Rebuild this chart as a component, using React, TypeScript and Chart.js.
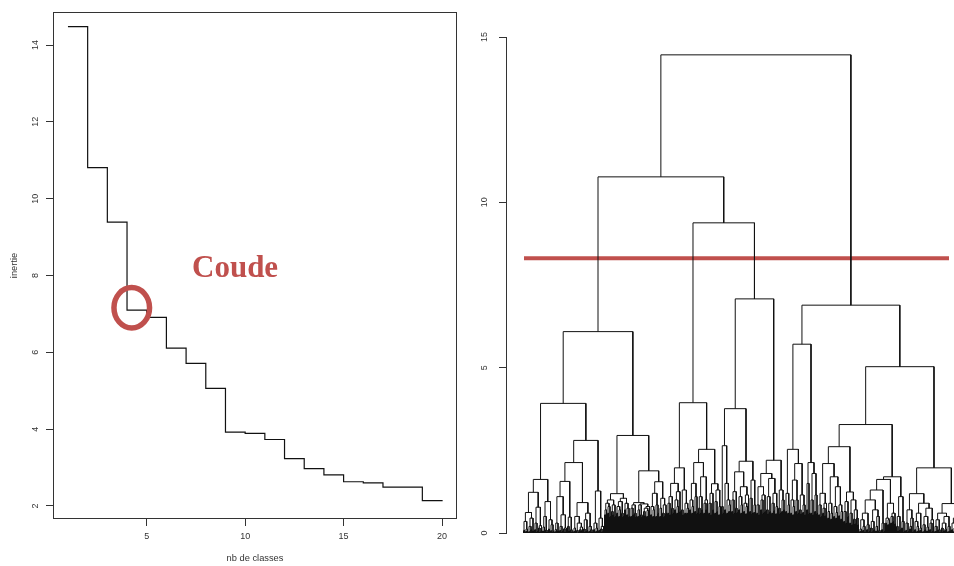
import React, { useEffect, useRef } from "react";
import { Chart, registerables } from "chart.js";

Chart.register(...registerables);

// ---------- Left chart: inertia vs number of classes ----------
const nbClasses = [1, 2, 3, 4, 5, 6, 7, 8, 9, 10, 11, 12, 13, 14, 15, 16, 17, 18, 19, 20];
const inertie = [14.48, 10.81, 9.39, 7.1, 6.91, 6.11, 5.71, 5.06, 3.92, 3.89, 3.73, 3.23, 2.97, 2.81, 2.63, 2.6, 2.49, 2.49, 2.14, 2.12];
const leftXTicks = [5, 10, 15, 20];
const leftYTicks = [2, 4, 6, 8, 10, 12, 14];
const elbowClasses = 4.24;
const elbowInertie = 7.16;
const annotationLabel = "Coude";

// ---------- Right chart: dendrogram ----------
const rightYTicks = [0, 5, 10, 15];
const cutHeight = 8.31;
const cutFrom = 0.5;
const cutTo = 425.5;

// merge heights between adjacent leaves inside each low-level bush
const bushGaps: number[][] = [
  [0.08, 0.35, 0.05, 0.12, 0.62, 0.04, 0.2, 0.1, 0.45, 0.06],
  [0.1, 0.3, 0.05, 0.78, 0.15, 0.04, 0.22],
  [0.06, 0.18, 0.5, 0.09, 0.03, 0.95, 0.12, 0.4, 0.07, 0.25, 0.05],
  [0.04, 0.1, 0.3, 0.06, 1.1, 0.08, 0.2, 0.05, 0.55, 0.12, 0.03, 0.15],
  [0.2, 0.06, 0.48, 0.1, 0.04],
  [0.05, 0.15, 0.5, 0.08, 0.02, 0.3, 0.1, 0.06, 0.18],
  [0.12, 0.04, 0.4, 0.08, 0.6, 0.05, 0.2, 0.1, 0.03],
  [0.1, 0.3, 0.05, 0.15, 1.27, 0.08, 0.45, 0.12, 0.04, 0.2],
  [0.55, 0.7, 0.9, 0.6, 0.8, 0.5, 1.0, 0.65, 0.55, 0.85, 0.5],
  [0.6, 0.8, 0.5, 0.7, 0.95, 0.6, 0.5, 1.05, 0.7, 0.9, 0.55, 0.75, 0.5],
  [0.5, 0.75, 0.55, 0.85, 0.6, 0.5],
  [0.5, 0.7, 0.85, 0.55, 0.5, 0.88, 0.65, 0.52, 0.75, 0.5, 0.68, 0.8],
  [0.55, 0.8, 0.5, 0.7, 1.2, 0.5, 0.85, 0.6, 1.55, 0.5, 0.75, 1.05, 0.6, 0.5, 0.85, 0.6],
  [0.6, 0.9, 0.55, 1.1, 0.75, 0.6, 1.5, 0.7, 1.0, 0.6, 0.8, 1.25, 0.65],
  [0.7, 0.55, 1.3, 0.6, 0.9, 0.6, 0.75],
  [0.7, 1.0, 0.6, 0.8, 1.5, 0.65, 1.1, 0.6],
  [0.75, 0.6, 1.1, 0.7, 1.7, 0.6, 0.9, 0.7, 1.0],
  [0.6, 0.9, 0.55, 1.2, 0.7],
  [0.6, 0.95, 0.65, 1.3, 0.55, 0.8],
  [0.8, 0.6],
  [0.7, 1.5, 0.6, 1.0, 0.65, 0.85],
  [0.65, 1.0, 0.6, 1.25, 0.75, 0.62, 1.85, 0.7, 1.1, 0.6, 0.85, 1.4, 0.65, 0.9, 0.58, 0.8, 1.15],
  [0.65, 1.05, 0.6, 1.6, 0.62, 0.85],
  [0.6, 0.85, 0.55, 1.4, 0.7, 1.0, 0.6, 1.15, 0.65],
  [0.7, 0.58, 1.1, 0.65, 1.65, 0.6, 0.9, 0.68, 1.2, 0.58, 0.8],
  [0.75, 0.6, 1.3, 0.65, 1.0, 0.7],
  [0.65, 1.2, 0.6, 0.85],
  [0.6, 1.0, 0.55, 0.8, 1.6, 0.65, 1.0, 0.6, 2.1, 0.7, 0.58, 1.15, 0.62, 0.85, 0.55],
  [0.7, 1.5, 0.6],
  [0.6, 1.0, 0.55, 1.8, 0.65, 1.15, 0.6],
  [0.55, 0.85, 0.5, 1.2, 0.6, 0.75, 0.52, 0.9],
  [0.45, 0.65, 0.9, 0.42, 0.6, 1.7, 0.5, 0.8, 0.45, 0.62, 1.4, 0.52, 0.85, 0.42, 0.65],
  [0.35, 0.65, 0.3, 0.95, 0.5],
  [0.3, 0.6, 0.25, 1.0, 0.42, 0.28, 0.7, 0.45, 0.25],
  [0.05, 0.12, 0.4, 0.08, 0.2, 0.03, 0.6, 0.1, 0.25, 0.05, 1.0, 0.15, 0.04, 0.35, 0.1, 0.7, 0.06, 0.2, 0.5, 0.08, 0.03, 1.3, 0.1, 0.3, 0.05],
  [0.3, 0.45, 0.25, 0.4, 0.9, 0.3, 0.5, 0.35, 0.6, 0.28],
  [0.2, 0.06, 0.5, 0.1, 1.1, 0.15, 0.35, 0.05],
  [0.08, 0.3, 0.05, 0.7, 0.12, 0.2, 0.45, 0.04],
  [0.1, 0.35, 0.05, 0.2, 0.6, 0.08, 0.15, 0.9, 0.04, 0.25, 0.1, 0.5, 0.06, 0.18, 0.75, 0.1, 0.3, 0.05, 0.4],
  [0.05, 0.2, 0.08, 0.4, 0.1, 0.03, 0.6, 0.15, 0.05, 0.3, 0.08, 0.12, 0.5, 0.04, 0.2, 0.07, 0.89, 0.1, 0.3, 0.05, 0.15, 0.45, 0.08, 0.2, 0.04, 0.6, 0.1, 0.25, 0.06, 0.35, 0.12, 0.05, 0.5],
];

// merge heights joining consecutive bushes
const joinHeights = [
  1.23, 1.62, 3.92, 1.56, 2.13, 0.92, 2.8, 6.09, 1.19, 2.95, 0.92, 1.88, 10.77,
  1.97, 3.94, 2.13, 2.53, 1.49, 9.38, 2.64, 3.76, 2.17, 7.08, 1.8, 2.2, 14.46,
  2.53, 5.71, 2.13, 6.89, 2.1, 2.61, 1.24, 3.28, 1.62, 1.7, 5.03, 1.19, 1.97,
];

type Pt = { x: number; y: number | null };

function buildDendrogram(): Pt[] {
  const gaps: number[] = [];
  bushGaps.forEach((b, i) => {
    gaps.push(...b);
    if (i < joinHeights.length) gaps.push(joinHeights[i]);
  });
  const pts: Pt[] = [];
  const rec = (lo: number, hi: number): { x: number; h: number } => {
    if (lo === hi) return { x: lo, h: 0 };
    let m = lo;
    for (let i = lo + 1; i < hi; i++) if (gaps[i] > gaps[m]) m = i;
    const H = gaps[m];
    const l = rec(lo, m);
    const r = rec(m + 1, hi);
    pts.push({ x: l.x, y: l.h }, { x: l.x, y: H }, { x: r.x, y: H }, { x: r.x, y: r.h }, { x: r.x, y: null });
    return { x: (l.x + r.x) / 2, h: H };
  };
  rec(0, gaps.length);
  return pts;
}

const FONT = '"Liberation Sans", Arial, sans-serif';
const INK = "#333";
const RED = "#c0504d";

export default function App() {
  const leftRef = useRef<HTMLCanvasElement>(null);
  const rightRef = useRef<HTMLCanvasElement>(null);

  useEffect(() => {
    Chart.defaults.font.family = FONT;

    const boxPlugin = {
      id: "rbox",
      afterDraw(chart: any) {
        const { ctx, chartArea: a } = chart;
        ctx.save();
        ctx.strokeStyle = INK;
        ctx.lineWidth = 1;
        ctx.strokeRect(Math.round(a.left) + 0.5, Math.round(a.top) + 0.5, Math.round(a.right - a.left) - 1, Math.round(a.bottom - a.top) - 1);
        const xs = chart.scales.x;
        const ys = chart.scales.y;
        ctx.strokeStyle = RED;
        ctx.lineWidth = 5.5;
        ctx.beginPath();
        ctx.ellipse(xs.getPixelForValue(elbowClasses), ys.getPixelForValue(elbowInertie), 17.8, 20.2, 0, 0, Math.PI * 2);
        ctx.stroke();
        ctx.restore();
      },
    };

    const left = new Chart(leftRef.current!, {
      type: "scatter",
      data: {
        datasets: [
          {
            data: nbClasses.map((c, i) => ({ x: c, y: inertie[i] })),
            showLine: true,
            stepped: "before",
            borderColor: "#111",
            borderWidth: 1.2,
            pointRadius: 0,
            fill: false,
          } as any,
        ],
      },
      options: {
        animation: false,
        responsive: false,
        devicePixelRatio: 1,
        layout: { padding: { top: 12, right: 13, left: 0, bottom: 0 } },
        plugins: { legend: { display: false }, tooltip: { enabled: false } },
        scales: {
          x: {
            type: "linear",
            min: 0.24,
            max: 20.76,
            afterBuildTicks: (s: any) => { s.ticks = leftXTicks.map((v) => ({ value: v })); },
            afterFit: (s: any) => { s.height = 47; },
            grid: { display: true, drawOnChartArea: false, drawTicks: true, tickLength: 7, color: INK },
            border: { display: false },
            ticks: { color: INK, font: { size: 9 }, padding: 5, maxRotation: 0, autoSkip: false },
            title: { display: true, text: "nb de classes", color: INK, font: { size: 9.3 }, padding: { top: 0, bottom: 2.4 } },
          },
          y: {
            type: "linear",
            min: 1.66,
            max: 14.86,
            afterBuildTicks: (s: any) => { s.ticks = leftYTicks.map((v) => ({ value: v })); },
            afterFit: (s: any) => { s.width = 53; },
            grid: { display: true, drawOnChartArea: false, drawTicks: true, tickLength: 7, color: INK },
            border: { display: false },
            ticks: { color: INK, font: { size: 9 }, padding: 5, minRotation: 90, maxRotation: 90, crossAlign: "center", autoSkip: false },
            title: { display: true, text: "inertie", color: INK, font: { size: 9.3 }, padding: { top: 8.4, bottom: 0 } },
          },
        },
      },
      plugins: [boxPlugin],
    } as any);

    const dendro = buildDendrogram();
    const right = new Chart(rightRef.current!, {
      type: "scatter",
      data: {
        datasets: [
          {
            data: dendro,
            showLine: true,
            spanGaps: false,
            borderColor: "#111",
            borderWidth: 1,
            pointRadius: 0,
            borderJoinStyle: "miter",
          } as any,
          {
            data: [
              { x: cutFrom, y: cutHeight },
              { x: cutTo, y: cutHeight },
            ],
            showLine: true,
            borderColor: RED,
            borderWidth: 4,
            pointRadius: 0,
          } as any,
        ],
      },
      options: {
        animation: false,
        responsive: false,
        devicePixelRatio: 1,
        layout: { padding: { top: 37, right: 0, left: 0, bottom: 33 } },
        plugins: { legend: { display: false }, tooltip: { enabled: false } },
        scales: {
          x: { type: "linear", min: -17.5, max: 430.5, display: false },
          y: {
            type: "linear",
            min: 0,
            max: 15,
            afterBuildTicks: (s: any) => { s.ticks = rightYTicks.map((v) => ({ value: v })); },
            afterFit: (s: any) => { s.width = 36; },
            grid: { display: true, drawOnChartArea: false, drawTicks: true, tickLength: 7, color: INK },
            border: { display: true, color: INK, width: 1 },
            ticks: { color: INK, font: { size: 9 }, padding: 9, minRotation: 90, maxRotation: 90, crossAlign: "center", autoSkip: false },
          },
        },
      },
    } as any);

    return () => {
      left.destroy();
      right.destroy();
    };
  }, []);

  return (
    <div style={{ position: "fixed", left: 0, top: 0, width: 954, height: 566, background: "#fff", overflow: "hidden" }}>
      <div style={{ position: "absolute", left: 0, top: 0, width: 470, height: 566 }}>
        <canvas ref={leftRef} width={470} height={566} />
      </div>
      <div style={{ position: "absolute", left: 470, top: 0, width: 484, height: 566 }}>
        <canvas ref={rightRef} width={484} height={566} />
      </div>
      <div
        style={{
          position: "absolute",
          left: 192,
          top: 251,
          font: 'bold 31px "Liberation Serif", "Times New Roman", serif',
          lineHeight: 1,
          color: RED,
          whiteSpace: "nowrap",
        }}
      >
        {annotationLabel}
      </div>
    </div>
  );
}
